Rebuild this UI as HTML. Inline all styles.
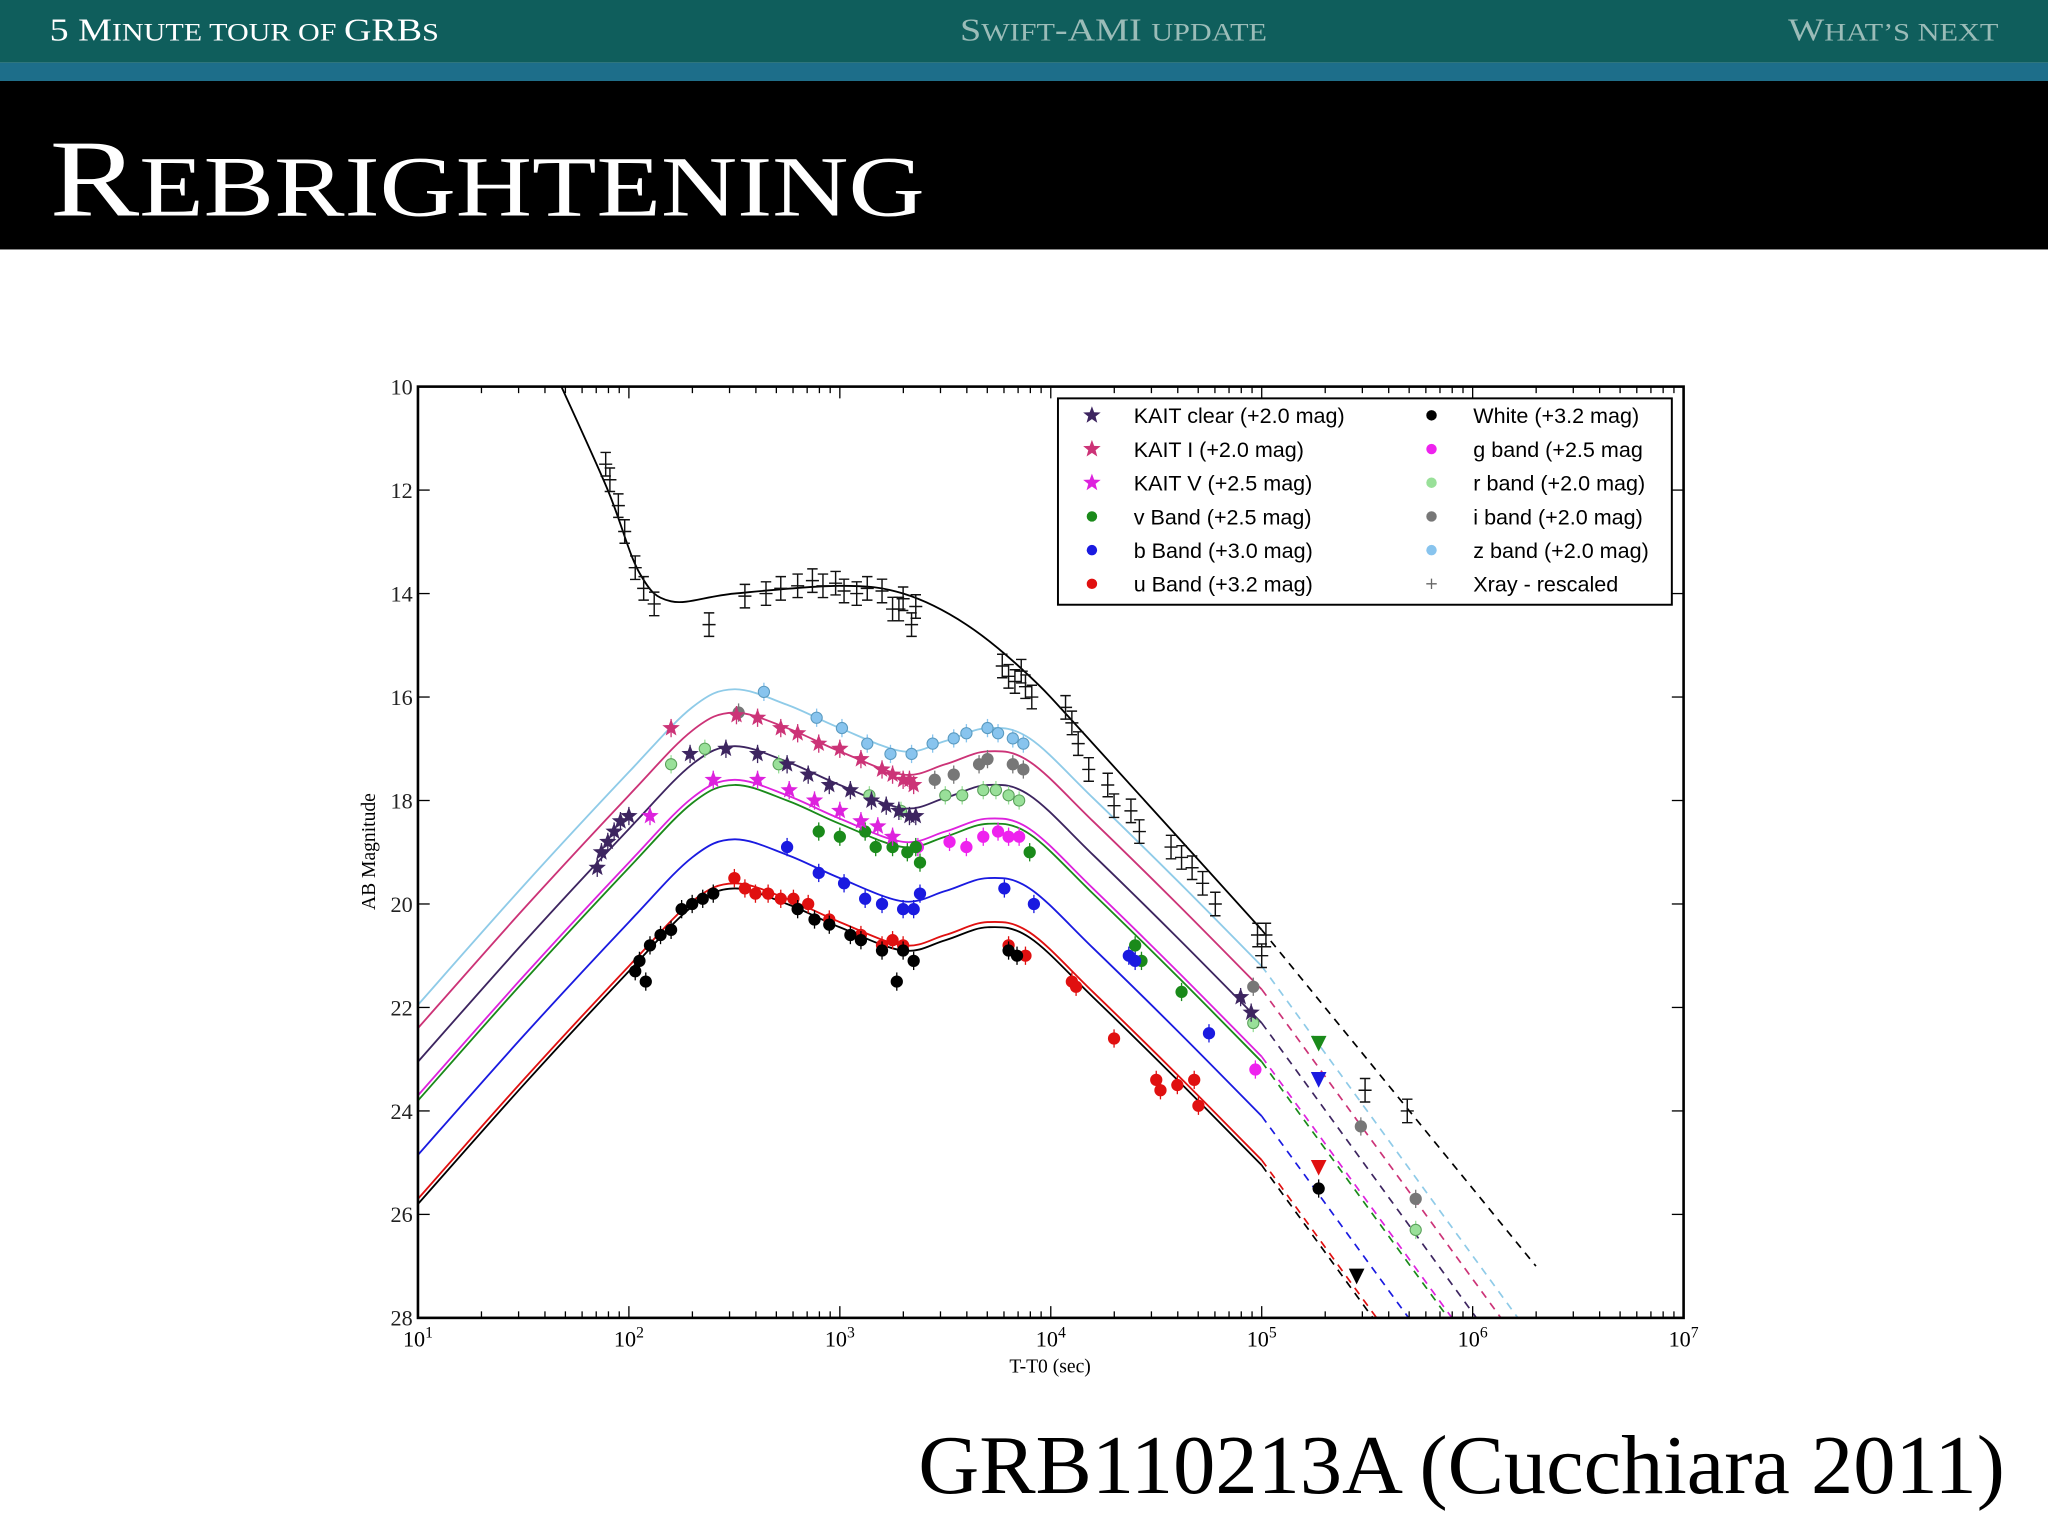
<!DOCTYPE html>
<html><head><meta charset="utf-8"><style>
html,body{margin:0;padding:0;background:#fff;}
svg{display:block}
</style></head><body>
<svg id="root" width="2048" height="1536" viewBox="0 0 1568 1176" preserveAspectRatio="none" xmlns="http://www.w3.org/2000/svg">
<rect x="0" y="0" width="1568" height="48" fill="#0f5e5c"/>
<rect x="0" y="48" width="1568" height="14" fill="#1d6e8a"/>
<rect x="0" y="62" width="1568" height="129" fill="#000"/>
<text x="38" y="31" fill="#fff" font-family="Liberation Serif, serif" font-size="24" textLength="298" lengthAdjust="spacingAndGlyphs">5 M<tspan font-size="19">INUTE TOUR OF </tspan>GRB<tspan font-size="19">S</tspan></text>
<text x="735" y="31" fill="#9bbcb8" font-family="Liberation Serif, serif" font-size="24" textLength="235" lengthAdjust="spacingAndGlyphs">S<tspan font-size="19">WIFT</tspan>-AMI <tspan font-size="19">UPDATE</tspan></text>
<text x="1369" y="31" fill="#9bbcb8" font-family="Liberation Serif, serif" font-size="24" textLength="161" lengthAdjust="spacingAndGlyphs">W<tspan font-size="19">HAT’S NEXT</tspan></text>
<text x="38" y="165" fill="#fff" font-family="Liberation Serif, serif" font-size="84" textLength="670" lengthAdjust="spacingAndGlyphs">R<tspan font-size="66">EBRIGHTENING</tspan></text>
<text x="1535" y="1143" fill="#000" font-family="Liberation Serif, serif" font-size="64" text-anchor="end" textLength="832" lengthAdjust="spacingAndGlyphs">GRB110213A (Cucchiara 2011)</text>
<g id="chart"></g>
</svg>
<script>
const xTicks=[1,2,3,4,5,6,7];
const yTicks=[10,12,14,16,18,20,22,24,26,28];
const templateLog=[1.0,1.5,2.0,2.3,2.5,2.75,3.0,3.3,3.5,3.7,3.9,4.2,4.6,5.0];
const templateDm=[6.1,3.8,1.6,0.35,0,0.3,0.75,1.2,1.0,0.75,0.95,2.1,3.7,5.35];
const bandNames=['z','kaitI','clear','kaitV','v','b','u','white'];
const bandPeaks=[15.85,16.3,16.95,17.6,17.7,18.75,19.6,19.7];
const bandColors=['#8fcbe8','#cc3377','#3d2560','#dd22dd','#1a8a1a','#1a1ae0','#e01010','#000'];
const xrayLog=[1.68,1.9,2.05,2.2,2.5,3.0,3.3,3.6,3.9,4.2,5.0];
const xrayMag=[10,12.0,13.6,14.15,14.0,13.85,14.0,14.6,15.6,16.9,20.5];
const xrayData=[[1.89,11.5],[1.91,11.8],[1.95,12.3],[1.98,12.8],[2.03,13.5],[2.07,13.9],[2.12,14.2],[2.38,14.6],[2.55,14.05],[2.65,14.0],[2.72,13.9],[2.8,13.85],[2.87,13.75],[2.92,13.85],[2.98,13.8],[3.02,13.95],[3.08,14.0],[3.13,13.9],[3.2,13.95],[3.25,14.3],[3.28,14.3],[3.3,14.1],[3.34,14.6],[3.36,14.25],[3.77,15.4],[3.8,15.6],[3.83,15.7],[3.86,15.5],[3.88,15.8],[3.91,16.0],[4.07,16.2],[4.1,16.5],[4.13,16.9],[4.18,17.4],[4.27,17.7],[4.3,18.1],[4.38,18.2],[4.42,18.6],[4.57,18.9],[4.62,19.1],[4.67,19.3],[4.72,19.6],[4.78,20.0],[4.98,20.6],[5.0,21.0],[5.02,20.6],[5.49,23.6],[5.69,24.0]];
const zData=[[2.64,15.9],[2.89,16.4],[3.01,16.6],[3.13,16.9],[3.24,17.1],[3.34,17.1],[3.44,16.9],[3.54,16.8],[3.6,16.7],[3.7,16.6],[3.75,16.7],[3.82,16.8],[3.87,16.9]];
const iData=[[2.52,16.3],[3.45,17.6],[3.54,17.5],[3.66,17.3],[3.7,17.2],[3.82,17.3],[3.87,17.4],[4.96,21.6],[5.47,24.3],[5.73,25.7]];
const rData=[[2.2,17.3],[2.36,17.0],[2.71,17.3],[3.14,17.9],[3.29,18.2],[3.5,17.9],[3.58,17.9],[3.68,17.8],[3.74,17.8],[3.8,17.9],[3.85,18.0],[4.96,22.3],[5.73,26.3]];
const kaitIData=[[2.2,16.6],[2.51,16.35],[2.61,16.4],[2.72,16.6],[2.8,16.7],[2.9,16.9],[3.0,17.0],[3.1,17.2],[3.2,17.4],[3.25,17.5],[3.3,17.6],[3.33,17.6],[3.35,17.7]];
const clearData=[[1.85,19.3],[1.87,19.0],[1.9,18.8],[1.93,18.6],[1.96,18.4],[2.0,18.3],[2.29,17.1],[2.46,17.0],[2.61,17.1],[2.75,17.3],[2.85,17.5],[2.95,17.7],[3.05,17.8],[3.15,18.0],[3.22,18.1],[3.28,18.2],[3.33,18.3],[3.36,18.3],[4.9,21.8],[4.95,22.1]];
const kaitVData=[[2.1,18.3],[2.4,17.6],[2.61,17.6],[2.76,17.8],[2.88,18.0],[3.0,18.2],[3.1,18.4],[3.18,18.5],[3.25,18.7]];
const gData=[[3.37,18.9],[3.52,18.8],[3.6,18.9],[3.68,18.7],[3.75,18.6],[3.8,18.7],[3.85,18.7],[4.97,23.2]];
const vData=[[2.9,18.6],[3.0,18.7],[3.12,18.6],[3.17,18.9],[3.25,18.9],[3.32,19.0],[3.36,18.9],[3.38,19.2],[3.9,19.0],[4.4,20.8],[4.43,21.1],[4.62,21.7]];
const bData=[[2.75,18.9],[2.9,19.4],[3.02,19.6],[3.12,19.9],[3.2,20.0],[3.3,20.1],[3.35,20.1],[3.38,19.8],[3.78,19.7],[3.92,20.0],[4.37,21.0],[4.4,21.1],[4.75,22.5]];
const uData=[[2.5,19.5],[2.55,19.7],[2.6,19.8],[2.66,19.8],[2.72,19.9],[2.78,19.9],[2.85,20.0],[2.95,20.3],[3.1,20.6],[3.2,20.8],[3.25,20.7],[3.3,20.8],[3.8,20.8],[3.88,21.0],[4.1,21.5],[4.12,21.6],[4.3,22.6],[4.5,23.4],[4.52,23.6],[4.6,23.5],[4.68,23.4],[4.7,23.9]];
const whiteData=[[2.03,21.3],[2.05,21.1],[2.08,21.5],[2.1,20.8],[2.15,20.6],[2.2,20.5],[2.25,20.1],[2.3,20.0],[2.35,19.9],[2.4,19.8],[2.8,20.1],[2.88,20.3],[2.95,20.4],[3.05,20.6],[3.1,20.7],[3.2,20.9],[3.27,21.5],[3.3,20.9],[3.35,21.1],[3.8,20.9],[3.84,21.0],[5.27,25.5]];
const limitData=[[5.27,22.7,'#1a8a1a'],[5.27,23.4,'#1a1ae0'],[5.27,25.1,'#e01010'],[5.45,27.2,'#000']];
const legendLabels=['KAIT clear (+2.0 mag)','KAIT I (+2.0 mag)','KAIT V (+2.5 mag)','v Band (+2.5 mag)','b Band (+3.0 mag)','u Band (+3.2 mag)','White (+3.2 mag)','g band (+2.5 mag','r band (+2.0 mag)','i band (+2.0 mag)','z band (+2.0 mag)','Xray - rescaled'];
const legendColors=['#3d2560','#cc3377','#dd22dd','#1a8a1a','#1a1ae0','#e01010','#000','#ee22ee','#99e099','#777','#88c4ee','#666'];

const NS='http://www.w3.org/2000/svg';
const L=320,R=1289,T=296,B=1009;
const X=lg=>L+(lg-1)*(R-L)/6;
const Y=m=>T+(m-10)*(B-T)/18;
const g=document.getElementById('chart');
function el(tag,attrs,parent){const e=document.createElementNS(NS,tag);for(const k in attrs)e.setAttribute(k,attrs[k]);(parent||g).appendChild(e);return e;}
const defs=el('defs',{});
const cp=el('clipPath',{id:'pc'},defs);el('rect',{x:L,y:T,width:R-L,height:B-T},cp);
const plot=el('g',{'clip-path':'url(#pc)'});
function smooth(pts){let d='M'+pts[0][0]+','+pts[0][1];for(let i=0;i<pts.length-1;i++){const p0=pts[Math.max(0,i-1)],p1=pts[i],p2=pts[i+1],p3=pts[Math.min(pts.length-1,i+2)];d+=' C'+(p1[0]+(p2[0]-p0[0])/6)+','+(p1[1]+(p2[1]-p0[1])/6)+' '+(p2[0]-(p3[0]-p1[0])/6)+','+(p2[1]-(p3[1]-p1[1])/6)+' '+p2[0]+','+p2[1];}return d;}
bandPeaks.forEach((pk,i)=>{
  const pts=templateLog.map((lg,j)=>[X(lg),Y(pk+templateDm[j])]);
  const c=el('path',{d:smooth(pts),fill:'none',stroke:bandColors[i],'stroke-width':1.4},plot);
  
  
  const endM=pk+templateDm[templateDm.length-1];
  const dl=el('line',{x1:X(5),y1:Y(endM),x2:X(6.4),y2:Y(endM+5.6*1.4),stroke:bandColors[i],'stroke-width':1.3,'stroke-dasharray':'6,5'},plot);
  
  
});
const xp=xrayLog.map((lg,j)=>[X(lg),Y(xrayMag[j])]);
const xc=el('path',{d:smooth(xp),fill:'none',stroke:'#000','stroke-width':1.4},plot);


const xd=el('line',{x1:X(5),y1:Y(20.5),x2:X(6.3),y2:Y(27.0),stroke:'#000','stroke-width':1.3,'stroke-dasharray':'6,5'},plot);


function star(cx,cy,r){let p=[];for(let k=0;k<10;k++){const a=-Math.PI/2+k*Math.PI/5,rr=k%2?r*0.42:r;p.push((cx+rr*Math.cos(a)).toFixed(1)+','+(cy+rr*Math.sin(a)).toFixed(1));}return p.join(' ');}
function pts(data,color,kind,name,stroke){
  data.forEach(d=>{
    const cx=X(d[0]),cy=Y(d[1]);
    el('line',{x1:cx,y1:cy-7,x2:cx,y2:cy+7,stroke:color,'stroke-width':1},plot);
    let m;
    if(kind==='star') m=el('polygon',{points:star(cx,cy,7),fill:color},plot);
    else m=el('circle',{cx:cx,cy:cy,r:4.3,fill:color,stroke:stroke||color,'stroke-width':0.8},plot);
    
    
  });
}
pts(zData,'#88c4ee','c','z-band','#5a9ac0');
pts(iData,'#777','c','i-band');
pts(rData,'#99e099','c','r-band','#5aa05a');
pts(gData,'#ee22ee','c','g-band');
pts(vData,'#1a8a1a','c','v-band');
pts(bData,'#1a1ae0','c','b-band');
pts(uData,'#e01010','c','u-band');
pts(whiteData,'#000','c','white-band');
pts(kaitIData,'#cc3377','star','kait-i');
pts(kaitVData,'#dd22dd','star','kait-v');
pts(clearData,'#3d2560','star','kait-clear');
xrayData.forEach(d=>{
  const cx=X(d[0]),cy=Y(d[1]);
  const v=el('path',{d:'M'+cx+','+(cy-9)+'V'+(cy+9)+'M'+(cx-4)+','+(cy-9)+'h8M'+(cx-4)+','+(cy+9)+'h8M'+(cx-5)+','+cy+'h10',stroke:'#111',fill:'none','stroke-width':1.1},plot);
  
  
});
limitData.forEach(d=>{
  const cx=X(d[0]),cy=Y(d[1]);
  const t=el('polygon',{points:(cx-6)+','+(cy-6)+' '+(cx+6)+','+(cy-6)+' '+cx+','+(cy+6),fill:d[2]},plot);
  
  
});
el('rect',{x:L,y:T,width:R-L,height:B-T,fill:'none',stroke:'#000','stroke-width':2});
xTicks.forEach(lg=>{
  const x=X(lg);
  el('line',{x1:x,y1:B,x2:x,y2:B-9,stroke:'#000'});el('line',{x1:x,y1:T,x2:x,y2:T+9,stroke:'#000'});
  if(lg<7)for(let k=2;k<10;k++){const xm=X(lg+Math.log10(k));el('line',{x1:xm,y1:B,x2:xm,y2:B-5,stroke:'#000'});el('line',{x1:xm,y1:T,x2:xm,y2:T+5,stroke:'#000'});}
  const t=el('text',{x:x,y:B+22,'font-family':'Liberation Serif, serif','font-size':17,'text-anchor':'middle'});
  t.textContent='10';
  const s=el('tspan',{dy:-7,'font-size':12},t);s.textContent=lg;
  
  
});
yTicks.forEach(m=>{
  const y=Y(m);
  el('line',{x1:L,y1:y,x2:L+9,y2:y,stroke:'#000'});el('line',{x1:R,y1:y,x2:R-9,y2:y,stroke:'#000'});
  const t=el('text',{x:L-4,y:y+6,'font-family':'Liberation Serif, serif','font-size':17,'text-anchor':'end',fill:'#222'});
  t.textContent=m;
  
  
});
const xt=el('text',{x:804,y:1051,'font-family':'Liberation Serif, serif','font-size':15,'text-anchor':'middle'});xt.textContent='T-T0 (sec)';


const yt=el('text',{x:0,y:0,'font-family':'Liberation Serif, serif','font-size':15,'text-anchor':'middle',transform:'translate(287,652) rotate(-90)'});yt.textContent='AB Magnitude';


const lg=el('g',{});


el('rect',{x:810,y:305,width:470,height:158,fill:'#fff',stroke:'#000','stroke-width':1.5},lg);
legendLabels.forEach((lab,i)=>{
  const col=i<6?0:1,row=i%6;
  const mx=col?1096:836,tx=col?1128:868,y=318+row*25.8;
  if(i<3) el('polygon',{points:star(mx,y,7),fill:legendColors[i]},lg);
  else if(i===11) el('path',{d:'M'+(mx-4)+','+y+'h8M'+mx+','+(y-4)+'v8',stroke:'#666'},lg);
  else el('circle',{cx:mx,cy:y,r:4,fill:legendColors[i]},lg);
  const t=el('text',{x:tx,y:y+6,'font-family':'Liberation Sans, sans-serif','font-size':16.5},lg);
  t.textContent=lab;
  
  
});
</script>
</body></html>
